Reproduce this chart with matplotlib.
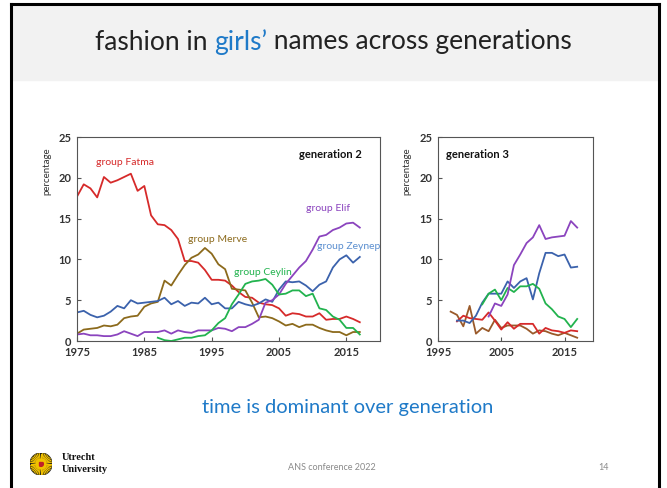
import numpy as np
import matplotlib.pyplot as plt
from matplotlib.patches import Rectangle, Circle
from matplotlib.lines import Line2D

plt.rcParams['font.family'] = ['Lato', 'DejaVu Sans']

# generation 2 (1975-2017)
years2 = list(range(1975, 2018))
fatma2 = [17.7, 19.2, 18.7, 17.6, 20.1, 19.4, 19.7, 20.1, 20.5, 18.4,
          19.0, 15.4, 14.3, 14.2, 13.6, 12.5, 9.8, 9.8, 9.6, 8.7,
          7.5, 7.5, 7.4, 6.8, 6.0, 5.4, 5.3, 4.7, 4.5, 4.4,
          4.0, 3.1, 3.4, 3.3, 3.0, 3.0, 3.4, 2.6, 2.7, 2.7,
          3.0, 2.7, 2.3]
merve2 = [0.9, 1.4, 1.5, 1.6, 1.9, 1.8, 2.0, 2.8, 3.0, 3.1,
          4.2, 4.6, 4.8, 7.4, 6.8, 8.1, 9.3, 10.2, 10.6, 11.4,
          10.7, 9.4, 8.8, 6.4, 6.3, 6.2, 4.7, 2.9, 3.0, 2.8,
          2.4, 1.9, 2.1, 1.7, 2.0, 2.0, 1.6, 1.3, 1.1, 1.1,
          0.7, 1.1, 1.1]
zeynep2 = [3.5, 3.7, 3.2, 2.9, 3.1, 3.6, 4.3, 4.0, 5.0, 4.6,
           4.7, 4.8, 4.9, 5.3, 4.5, 4.9, 4.3, 4.7, 4.6, 5.3,
           4.5, 4.7, 4.0, 4.0, 4.8, 4.5, 4.3, 4.6, 5.1, 4.8,
           6.3, 7.3, 7.2, 7.3, 6.8, 6.1, 6.9, 7.3, 9.0, 10.0,
           10.5, 9.6, 10.3]
elif2 = [0.8, 0.9, 0.7, 0.7, 0.6, 0.6, 0.8, 1.2, 0.9, 0.6,
         1.1, 1.1, 1.1, 1.3, 0.9, 1.3, 1.1, 1.0, 1.3, 1.3,
         1.3, 1.6, 1.5, 1.2, 1.7, 1.7, 2.1, 2.6, 4.7, 5.0,
         5.7, 7.0, 8.0, 9.0, 9.8, 11.2, 12.8, 13.0, 13.6, 13.9,
         14.4, 14.5, 13.9]
ceylin2_years = list(range(1987, 2018))
ceylin2 = [0.4, 0.1, 0.0, 0.2, 0.4, 0.4, 0.6, 0.7, 1.3, 2.2,
           2.8, 4.5, 5.7, 7.0, 7.3, 7.4, 7.6, 6.9, 5.7, 5.8,
           6.2, 6.2, 5.5, 5.8, 4.0, 3.8, 3.0, 2.6, 1.6, 1.6,
           0.8]

# generation 3
merve3_years = list(range(1997, 2018))
merve3 = [3.6, 3.2, 1.8, 4.3, 0.9, 1.6, 1.2, 2.6, 1.6, 1.9,
          1.9, 1.9, 1.5, 0.9, 1.3, 1.2, 0.9, 0.7, 1.0, 0.7, 0.4]
fatma3_years = list(range(1998, 2018))
fatma3 = [2.4, 3.1, 2.8, 2.7, 2.6, 3.5, 2.5, 1.4, 2.3, 1.5,
          2.1, 2.1, 2.1, 0.9, 1.6, 1.3, 1.2, 1.0, 1.3, 1.2]
zeynep3_years = list(range(1998, 2018))
zeynep3 = [2.5, 2.5, 2.2, 3.1, 4.7, 5.8, 5.8, 5.8, 7.3, 6.5,
           7.3, 7.7, 5.1, 8.3, 10.8, 10.8, 10.4, 10.6, 9.0, 9.1]
ceylin3_years = list(range(2002, 2018))
ceylin3 = [4.5, 5.8, 6.3, 5.0, 6.5, 6.0, 6.7, 6.7, 7.0, 6.4,
           4.6, 3.9, 3.0, 2.7, 1.7, 2.7]
elif3_years = list(range(2003, 2018))
elif3 = [3.0, 4.6, 4.3, 5.7, 9.3, 10.6, 12.0, 12.7, 14.2, 12.5,
         12.7, 12.8, 12.9, 14.7, 13.9]

c_red = '#D62A2A'
c_brown = '#8C6A1C'
c_blue = '#3B62AC'
c_purple = '#8B44BE'
c_green = '#22B34E'
txt_grey = '#333333'

W, H = 667, 488
fig = plt.figure(figsize=(W / 100, H / 100), dpi=100)

# slide background: grey title band + black frame
fig.patches.append(Rectangle((11 / W, 1 - 80 / H), 648 / W, 76 / H,
                             transform=fig.transFigure, color='#F2F2F2', zorder=0))
for xs, ys in [([11, 11], [4, 488]), ([659, 659], [4, 488]), ([11, 659], [4, 4])]:
    fig.add_artist(Line2D([x / W for x in xs], [1 - y / H for y in ys],
                          transform=fig.transFigure, color='black', lw=2.2,
                          solid_capstyle='projecting'))


def style(ax, xticks, xlim, lab_x):
    ax.set_xlim(*xlim)
    ax.set_ylim(0, 25)
    ax.set_xticks(xticks)
    ax.set_yticks([0, 5, 10, 15, 20, 25])
    ax.tick_params(direction='in', length=3, width=0.8, labelsize=8,
                   labelcolor=txt_grey, color='#555555', pad=4)
    for lab in ax.get_xticklabels() + ax.get_yticklabels():
        lab.set_fontweight('bold')
    for s in ax.spines.values():
        s.set_color('#555555')
        s.set_linewidth(0.8)
    ax.set_ylabel('percentage', fontsize=7, color=txt_grey)
    ax.yaxis.set_label_coords(lab_x, 0.83)


ax1 = fig.add_axes([77 / W, 1 - 341 / H, 303 / W, 204 / H])
lw = 1.3
ax1.plot(years2, fatma2, color=c_red, lw=lw)
ax1.plot(years2, merve2, color=c_brown, lw=lw)
ax1.plot(years2, zeynep2, color=c_blue, lw=lw)
ax1.plot(years2, elif2, color=c_purple, lw=lw)
ax1.plot(ceylin2_years, ceylin2, color=c_green, lw=lw)
style(ax1, [1975, 1985, 1995, 2005, 2015], (1975, 2020), -0.085)
ax1.text(1977.8, 21.9, 'group Fatma', color=c_red, fontsize=7.5, va='center')
ax1.text(1991.5, 12.4, 'group Merve', color=c_brown, fontsize=7.5, va='center')
ax1.text(1998.3, 8.4, 'group Ceylin', color=c_green, fontsize=7.5, va='center')
ax1.text(2009.0, 16.2, 'group Elif', color=c_purple, fontsize=7.5, va='center')
ax1.text(2010.6, 11.6, 'group Zeynep', color='#5B8FD0', fontsize=7.5, va='center')
ax1.text(2017.3, 22.8, 'generation 2', fontsize=8, fontweight='bold',
         ha='right', va='center', color='#111111')

ax2 = fig.add_axes([438 / W, 1 - 341 / H, 155 / W, 204 / H])
ax2.plot(merve3_years, merve3, color='#9A5A2A', lw=lw)
ax2.plot(fatma3_years, fatma3, color=c_red, lw=lw)
ax2.plot(zeynep3_years, zeynep3, color=c_blue, lw=lw)
ax2.plot(ceylin3_years, ceylin3, color=c_green, lw=lw)
ax2.plot(elif3_years, elif3, color=c_purple, lw=lw)
style(ax2, [1995, 2005, 2015], (1995, 2019.5), -0.17)
ax2.text(1996.2, 22.8, 'generation 3', fontsize=8, fontweight='bold',
         ha='left', va='center', color='#111111')

# title with a coloured word
tsize = 19
ty = 1 - 42 / H
t1 = fig.text(95 / W, ty, 'fashion in ', fontsize=tsize,
              color='#222222', va='center')
fig.canvas.draw()
r = fig.canvas.get_renderer()
bb = t1.get_window_extent(r)
t2 = fig.text(bb.x1 / W, ty, "girls\u2019", fontsize=tsize,
              color='#1F7AC8', va='center')
bb2 = t2.get_window_extent(r)
fig.text(bb2.x1 / W, ty, ' names across generations', fontsize=tsize,
         color='#222222', va='center')

fig.text(348 / W, 1 - 408 / H, 'time is dominant over generation', fontsize=14.5,
         color='#1F7AC8', ha='center', va='center')
fig.text(332 / W, 1 - 468 / H, 'ANS conference 2022', fontsize=6.5,
         color='#8A8A8A', ha='center', va='center')
fig.text(604 / W, 1 - 468 / H, '14', fontsize=6.5, color='#8A8A8A',
         ha='center', va='center')

# Utrecht University logo
lax = fig.add_axes([30 / W, 1 - 475 / H, 22 / W, 22 / H])
lax.set_xlim(-1, 1)
lax.set_ylim(-1, 1)
lax.set_aspect('equal')
lax.axis('off')
lax.add_patch(Circle((0, 0), 1.0, color='#1A1A1A'))
for a in np.linspace(0, 2 * np.pi, 36, endpoint=False):
    lax.plot([0.35 * np.cos(a), 0.95 * np.cos(a)], [0.35 * np.sin(a), 0.95 * np.sin(a)],
             color='#F2C200', lw=0.9)
lax.add_patch(Circle((0, 0), 0.42, color='#F2C200'))
lax.add_patch(Rectangle((-0.15, -0.15), 0.3, 0.3, color='#C0202A'))
fig.text(62 / W, 1 - 458 / H, 'Utrecht', fontsize=7.5, family='Liberation Serif',
         fontweight='bold', va='center', color='#111111')
fig.text(62 / W, 1 - 469 / H, 'University', fontsize=7.5, family='Liberation Serif',
         fontweight='bold', va='center', color='#111111')

fig.savefig('out.png', dpi=100)
